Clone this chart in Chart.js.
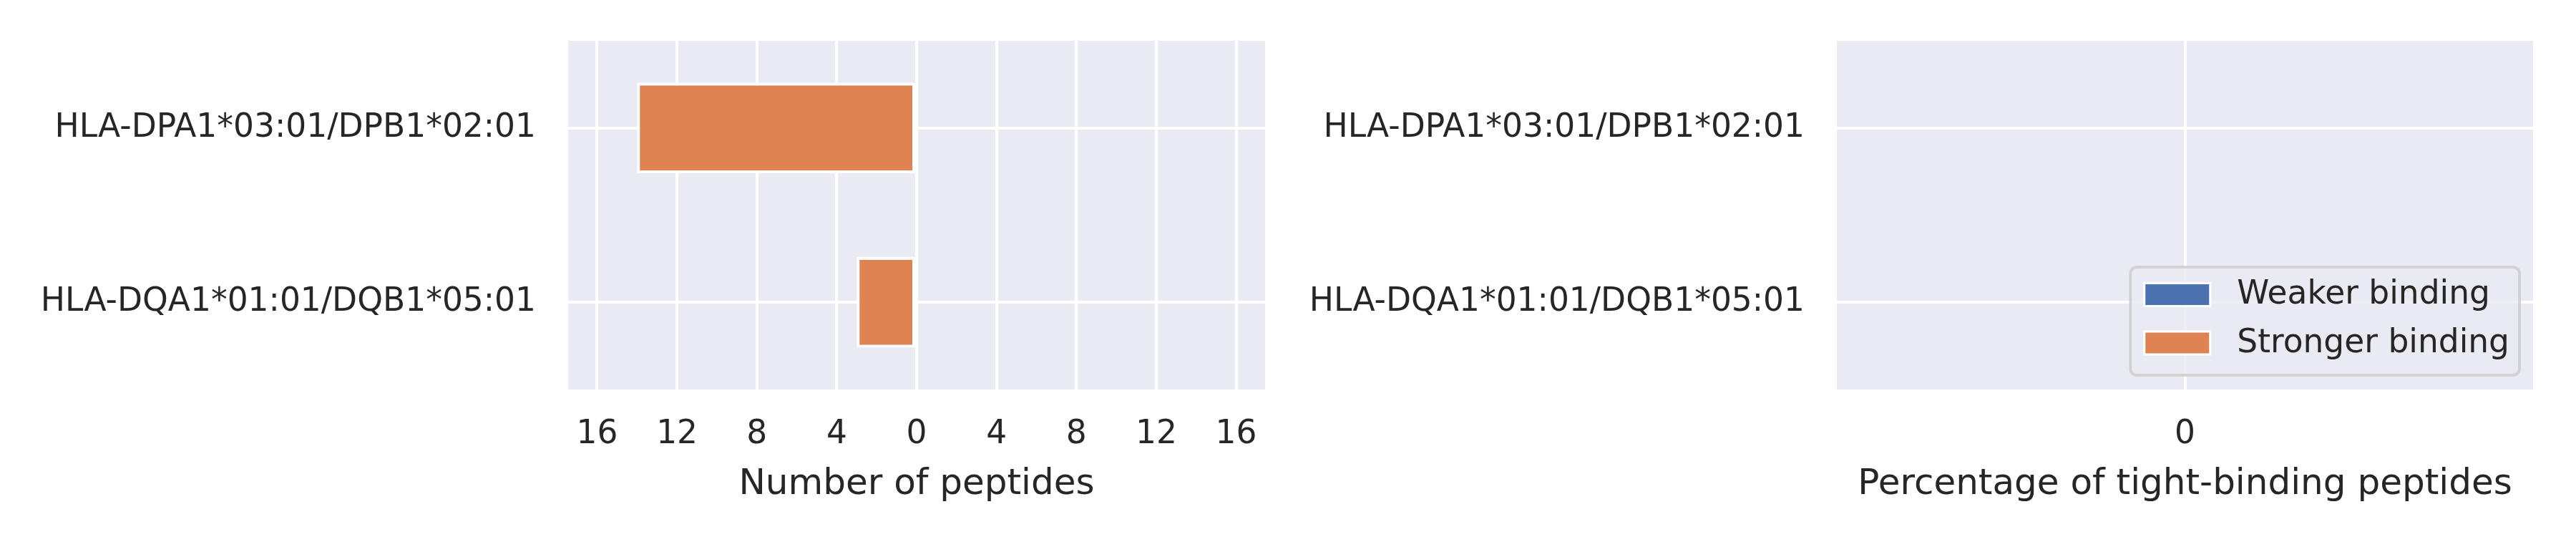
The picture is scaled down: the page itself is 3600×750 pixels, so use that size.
<!DOCTYPE html>
<html>
<head>
<meta charset="utf-8">
<script src="https://cdn.jsdelivr.net/npm/chart.js@4.4.1/dist/chart.umd.min.js"></script>
<style>
    html, body { margin: 0; padding: 0; background: #ffffff; }
    #wrap { position: relative; width: 3600px; height: 750px; }
    .panel { position: absolute; top: 0; width: 1800px; height: 750px; }
</style>
</head>
<body>
<div id="wrap">
    <div class="panel" style="left:0"><canvas id="countChart" width="1800" height="750"></canvas></div>
    <div class="panel" style="left:1800px"><canvas id="pctChart" width="1800" height="750"></canvas></div>
</div>
<script>
// data
const alleles = ['HLA-DPA1*03:01/DPB1*02:01', 'HLA-DQA1*01:01/DQB1*05:01'];
const seriesNames = ['Weaker binding', 'Stronger binding'];
const weakerCounts = [0, 0];      // drawn to the right
const strongerCounts = [14, 3];   // drawn to the left
const weakerPct = [0, 0];
const strongerPct = [0, 0];
const countTicks = [-16, -12, -8, -4, 0, 4, 8, 12, 16];
const pctTicks = [0];

const BLUE = '#4C72B0';
const ORANGE = '#DD8452';
const TEXT = '#262626';

Chart.defaults.font.family = "'DejaVu Sans', sans-serif";
Chart.defaults.color = TEXT;

// grey plot background (seaborn darkgrid)
const axesBg = {
    id: 'axesBg',
    beforeDraw(chart) {
        const { ctx, chartArea: a } = chart;
        ctx.save();
        ctx.fillStyle = '#EAEAF2';
        ctx.fillRect(a.left, a.top, a.right - a.left, a.bottom - a.top);
        ctx.restore();
    }
};

// legend inside the plot, lower right
const innerLegend = {
    id: 'innerLegend',
    afterDraw(chart) {
        const { ctx, chartArea: a } = chart;
        const sets = chart.data.datasets;
        ctx.save();
        ctx.font = "45.5px 'DejaVu Sans', sans-serif";
        const textW = Math.max(...sets.map(d => ctx.measureText(d.label).width));
        const w = 18 + 95 + 36 + textW + 14;
        const h = 151;
        const right = a.right - 19;
        const bottom = a.bottom - 20;
        const left = right - w;
        const top = bottom - h;

        ctx.beginPath();
        ctx.roundRect(left, top, w, h, 9);
        ctx.fillStyle = 'rgba(234, 234, 242, 0.8)';
        ctx.fill();
        ctx.lineWidth = 4;
        ctx.strokeStyle = 'rgba(204, 204, 204, 0.8)';
        ctx.stroke();

        sets.forEach((d, i) => {
            const cy = top + 38.5 + i * 67.5;
            ctx.fillStyle = '#ffffff';
            ctx.fillRect(left + 18, cy - 17.5, 95, 35);
            ctx.fillStyle = d.backgroundColor;
            ctx.fillRect(left + 21, cy - 14.5, 89, 29);
            ctx.fillStyle = TEXT;
            ctx.textBaseline = 'middle';
            ctx.textAlign = 'left';
            ctx.fillText(d.label, left + 18 + 95 + 36, cy + 1);
        });
        ctx.restore();
    }
};

function barSet(label, data, color) {
    return {
        label: label,
        data: data,
        backgroundColor: color,
        borderColor: '#ffffff',
        borderWidth: 4,
        borderSkipped: false,
        grouped: false,
        barPercentage: 0.52,
        categoryPercentage: 1
    };
}

function makeOptions(yWidth, padRight, xMin, xMax, tickList, title, tickFmt) {
    return {
        indexAxis: 'y',
        responsive: false,
        devicePixelRatio: 1,
        animation: false,
        layout: { padding: { top: 57, right: padRight, bottom: 0, left: 0 } },
        plugins: {
            legend: { display: false },
            tooltip: { enabled: false }
        },
        scales: {
            x: {
                type: 'linear',
                min: xMin,
                max: xMax,
                afterBuildTicks: s => { s.ticks = tickList.map(v => ({ value: v })); },
                afterFit: s => { s.height = 206; s.paddingLeft = 0; s.paddingRight = 0; },
                grid: { color: '#ffffff', lineWidth: 4, drawTicks: false },
                border: { display: false },
                ticks: {
                    autoSkip: false,
                    maxRotation: 0,
                    padding: 36,
                    font: { size: 45.5 },
                    color: TEXT,
                    callback: tickFmt
                },
                title: {
                    display: true,
                    text: title,
                    font: { size: 50 },
                    color: TEXT,
                    padding: { top: 0, bottom: 43 }
                }
            },
            y: {
                type: 'category',
                offset: true,
                afterFit: s => { s.width = yWidth; s.paddingTop = 0; s.paddingBottom = 0; },
                grid: { color: '#ffffff', lineWidth: 4, drawTicks: false, offset: false },
                border: { display: false },
                ticks: { padding: 45, font: { size: 45.5 }, color: TEXT }
            }
        }
    };
}

new Chart(document.getElementById('countChart'), {
    type: 'bar',
    data: {
        labels: alleles,
        datasets: [
            barSet(seriesNames[0], weakerCounts, BLUE),
            barSet(seriesNames[1], strongerCounts.map(v => -v), ORANGE)
        ]
    },
    options: makeOptions(794, 32, -17.45, 17.45, countTicks, 'Number of peptides', v => Math.abs(v)),
    plugins: [axesBg]
});

new Chart(document.getElementById('pctChart'), {
    type: 'bar',
    data: {
        labels: alleles,
        datasets: [
            barSet(seriesNames[0], weakerPct, BLUE),
            barSet(seriesNames[1], strongerPct, ORANGE)
        ]
    },
    options: makeOptions(767, 60, -1, 1, pctTicks, 'Percentage of tight-binding peptides', v => v),
    plugins: [axesBg, innerLegend]
});
</script>
</body>
</html>
